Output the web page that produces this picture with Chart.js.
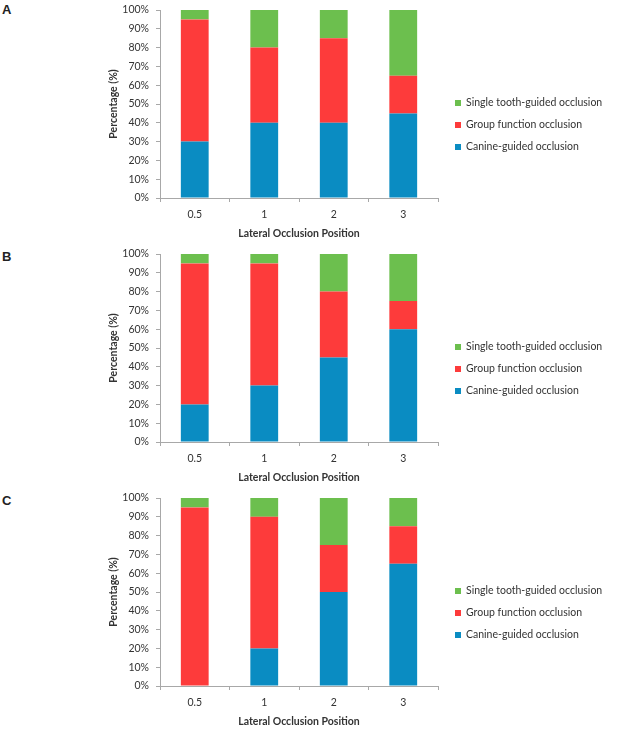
<!DOCTYPE html>
<html>
<head>
<meta charset="utf-8">
<script src="https://cdn.jsdelivr.net/npm/chart.js@4.4.1/dist/chart.umd.min.js"></script>
<style>
  body { margin: 0; background: #fff; }
  .panel { position: absolute; left: 0; width: 634px; height: 244px; }
  .panel canvas { position: absolute; left: 0; top: 0; }
  .tag { position: absolute; left: 2px; top: 2px; font: bold 13px "Liberation Sans", Arial, sans-serif; color: #222; }
  .legend { position: absolute; left: 455px; top: 95px; font: 10.5px Lato, sans-serif; color: #333; }
  .legend div { height: 22px; line-height: 14px; white-space: nowrap; }
  .legend span { display: inline-block; width: 6px; height: 6px; margin: 0 5px 1px 0; vertical-align: middle; }
</style>
</head>
<body>
<div class="panel" style="top:0px"><span class="tag">A</span><canvas id="chartA" width="634" height="244"></canvas><div class="legend" id="legA"></div></div>
<div class="panel" style="top:244px"><span class="tag" style="top:5px">B</span><canvas id="chartB" width="634" height="244"></canvas><div class="legend" id="legB"></div></div>
<div class="panel" style="top:488px"><span class="tag" style="top:5px">C</span><canvas id="chartC" width="634" height="244"></canvas><div class="legend" id="legC"></div></div>
<script>
// lateral occlusion positions
const positions = ['0.5', '1', '2', '3'];
const seriesNames = ['Canine-guided occlusion', 'Group function occlusion', 'Single tooth-guided occlusion'];
const seriesColors = ['#0a8cc2', '#fd3b3b', '#6cbf4e'];

// panel A
const canineA = [30, 40, 40, 45];
const groupA = [65, 40, 45, 20];
const singleA = [5, 20, 15, 35];
// panel B
const canineB = [20, 30, 45, 60];
const groupB = [75, 65, 35, 15];
const singleB = [5, 5, 20, 25];
// panel C
const canineC = [0, 20, 50, 65];
const groupC = [95, 70, 25, 20];
const singleC = [5, 10, 25, 15];

const yTicks = [0, 10, 20, 30, 40, 50, 60, 70, 80, 90, 100];

const font = { family: 'Lato, "Open Sans", sans-serif', size: 10.5 };
const boldFont = { family: font.family, size: 10.5, weight: 'bold' };
const axisColor = '#a8a8a8';

function makeChart(id, legendId, canine, group, single) {
  const ctx = document.getElementById(id).getContext('2d');
  const values = [canine, group, single];
  const chart = new Chart(ctx, {
    type: 'bar',
    data: {
      labels: positions,
      datasets: seriesNames.map((name, i) => ({
        label: name,
        data: values[i],
        backgroundColor: seriesColors[i],
        borderWidth: 0,
        barPercentage: 0.4,
        categoryPercentage: 1
      }))
    },
    options: {
      responsive: false,
      animation: false,
      layout: { padding: { left: 107, right: 196, top: 10, bottom: 4 } },
      plugins: {
        tooltip: { enabled: false },
        legend: { display: false }
      },
      scales: {
        x: {
          stacked: true,
          afterFit: axis => { axis.height = 42; },
          border: { color: axisColor },
          grid: { display: true, drawOnChartArea: false, drawTicks: true, tickLength: 4, color: axisColor, offset: true },
          ticks: { color: '#333', font: font, padding: 6 },
          title: { display: true, text: 'Lateral Occlusion Position', color: '#333', font: boldFont, padding: { top: 0, bottom: 0 } }
        },
        y: {
          stacked: true,
          min: 0,
          max: 100,
          afterBuildTicks: axis => { axis.ticks = yTicks.map(v => ({ value: v })); },
          afterFit: axis => { axis.width = 53; axis.paddingTop = 0; axis.paddingBottom = 0; },
          border: { color: axisColor },
          grid: { display: true, drawOnChartArea: false, drawTicks: true, tickLength: 4, color: axisColor },
          ticks: { color: '#333', font: font, padding: 7, callback: v => v + '%' },
          title: { display: true, text: 'Percentage (%)', color: '#333', font: boldFont, padding: 0 }
        }
      }
    }
  });

  // legend drawn in HTML from the chart's own legend items (reverse order)
  const items = Chart.defaults.plugins.legend.labels.generateLabels(chart).reverse();
  document.getElementById(legendId).innerHTML = items.map(it =>
    '<div><span style="background:' + it.fillStyle + '"></span>' + it.text + '</div>').join('');
}

makeChart('chartA', 'legA', canineA, groupA, singleA);
makeChart('chartB', 'legB', canineB, groupB, singleB);
makeChart('chartC', 'legC', canineC, groupC, singleC);
</script>
</body>
</html>
